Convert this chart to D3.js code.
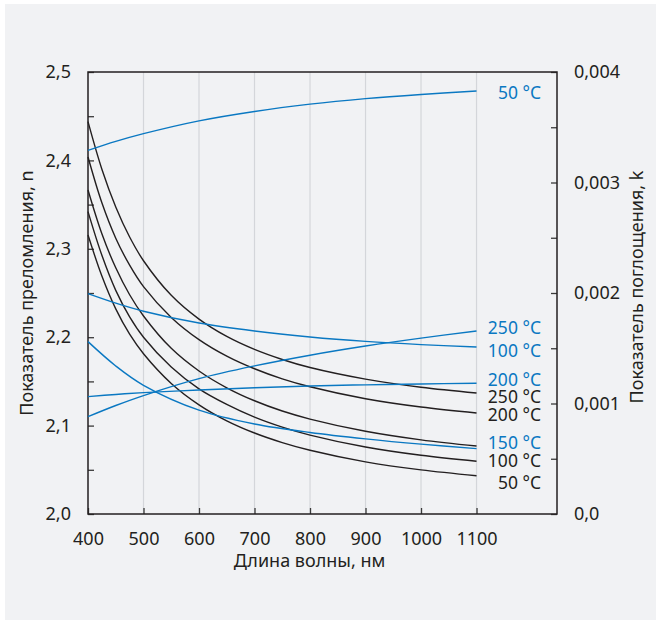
<!DOCTYPE html>
<html>
<head>
<meta charset="utf-8">
<script src="https://cdn.jsdelivr.net/npm/d3@7"></script>
<style>
  html, body { margin: 0; padding: 0; background: #ffffff; }
  svg { display: block; }
  text { font-family: "Noto Sans", "Open Sans", sans-serif; }
</style>
</head>
<body>
<svg id="chart" width="656" height="624"></svg>
<script>
// Wavelength grid (nm) for the refractive index curves
const wavelengthsN = [400, 425, 450, 475, 500, 550, 600, 650, 700, 750, 800, 900, 1000, 1100];
// Refractive index n by temperature
const n250 = [2.4438, 2.3900, 2.3473, 2.3133, 2.2865, 2.2474, 2.2205, 2.2009, 2.1862, 2.1748, 2.1657, 2.1526, 2.1434, 2.1369];
const n200 = [2.4038, 2.3520, 2.3120, 2.2815, 2.2572, 2.2224, 2.1973, 2.1786, 2.1643, 2.1529, 2.1439, 2.1304, 2.1210, 2.1143];
const n150 = [2.3665, 2.3170, 2.2785, 2.2480, 2.2240, 2.1874, 2.1618, 2.1428, 2.1281, 2.1165, 2.1074, 2.0936, 2.0839, 2.0769];
const n100 = [2.3420, 2.2926, 2.2530, 2.2230, 2.2000, 2.1663, 2.1416, 2.1240, 2.1096, 2.0983, 2.0893, 2.0758, 2.0664, 2.0596];
const n50  = [2.3156, 2.2692, 2.2320, 2.2034, 2.1813, 2.1477, 2.1235, 2.1054, 2.0916, 2.0808, 2.0721, 2.0590, 2.0499, 2.0433];

// Wavelength grid (nm) for the absorption index curves
const wavelengthsK = [400, 450, 500, 600, 700, 800, 900, 1000, 1100];
// Absorption index k (x 0.001) by temperature
const k50  = [3.290, 3.372, 3.442, 3.558, 3.643, 3.709, 3.759, 3.797, 3.828];
const k100 = [1.994, 1.908, 1.835, 1.728, 1.656, 1.602, 1.562, 1.533, 1.511];
const k150 = [1.560, 1.340, 1.165, 0.940, 0.815, 0.738, 0.680, 0.632, 0.592];
const k200 = [1.062, 1.082, 1.098, 1.122, 1.143, 1.158, 1.169, 1.177, 1.183];
const k250 = [0.881, 0.982, 1.072, 1.225, 1.340, 1.437, 1.520, 1.592, 1.656];

// Axis ticks
const xTicks = [400, 500, 600, 700, 800, 900, 1000, 1100];
const nTicks = [2.0, 2.1, 2.2, 2.3, 2.4, 2.5];
const kTicks = [0, 0.001, 0.002, 0.003, 0.004];
const nTickLabels = ["2,0", "2,1", "2,2", "2,3", "2,4", "2,5"];
const kTickLabels = ["0,0", "0,001", "0,002", "0,003", "0,004"];

const BLACK = "#231f20";
const BLUE = "#0a78c2";
const TEXT = "#231f20";

const svg = d3.select("#chart");

// panel background
svg.append("rect").attr("x", 5).attr("y", 4).attr("width", 651).attr("height", 616)
  .attr("fill", "#f1f2f4");

const L = 88, R = 557, T = 72, B = 514;
const x = d3.scaleLinear().domain([400, 1245]).range([L, R]);
const yN = d3.scaleLinear().domain([2.0, 2.5]).range([B, T]);
const yK = d3.scaleLinear().domain([0, 0.004]).range([B, T]);

// vertical grid lines
svg.append("g").selectAll("line").data(xTicks.slice(1)).join("line")
  .attr("x1", d => x(d)).attr("x2", d => x(d))
  .attr("y1", T).attr("y2", B)
  .attr("stroke", "#d4d6da").attr("stroke-width", 1.2);

// axes with inward ticks
const fmtN = d => nTickLabels[nTicks.findIndex(t => Math.abs(t - d) < 1e-9)] || "";
const fmtK = d => kTickLabels[kTicks.findIndex(t => Math.abs(t - d) < 1e-9)] || "";

function styleAxis(g) {
  g.select(".domain").remove();
  g.selectAll("line").attr("stroke", "#3a3a3a").attr("stroke-width", 1.3);
  g.selectAll("text").attr("fill", TEXT).style("font-size", "18px")
    .style("font-family", "'Noto Sans', sans-serif");
}

const leftAxis = d3.axisLeft(yN)
  .tickValues(d3.range(0, 11).map(i => 2 + i * 0.05))
  .tickSize(-6).tickPadding(17).tickFormat(fmtN);
svg.append("g").attr("transform", `translate(${L},0)`).call(leftAxis).call(styleAxis);

const rightAxis = d3.axisRight(yK)
  .tickValues(d3.range(0, 9).map(i => i * 0.0005))
  .tickSize(-6).tickPadding(17).tickFormat(fmtK);
svg.append("g").attr("transform", `translate(${R},0)`).call(rightAxis).call(styleAxis);

const bottomAxis = d3.axisBottom(x).tickValues(xTicks).tickSize(-6).tickPadding(18)
  .tickFormat(d3.format("d"));
svg.append("g").attr("transform", `translate(0,${B})`).call(bottomAxis).call(styleAxis);

// frame
svg.append("rect").attr("x", L).attr("y", T).attr("width", R - L).attr("height", B - T)
  .attr("fill", "none").attr("stroke", BLACK).attr("stroke-width", 1.5);

// curves
const smooth = d3.curveCatmullRom.alpha(0.5);
const lineN = d3.line().x((d, i) => x(wavelengthsN[i])).y(d => yN(d)).curve(smooth);
const lineK = d3.line().x((d, i) => x(wavelengthsK[i])).y(d => yK(d / 1000)).curve(smooth);

const nSeries = [n250, n200, n150, n100, n50];
const kSeries = [k50, k100, k150, k200, k250];

svg.append("g").selectAll("path").data(nSeries).join("path")
  .attr("d", lineN).attr("fill", "none").attr("stroke", BLACK).attr("stroke-width", 1.4);
svg.append("g").selectAll("path").data(kSeries).join("path")
  .attr("d", lineK).attr("fill", "none").attr("stroke", BLUE).attr("stroke-width", 1.4);

// end labels: text, colour, y of series end, vertical nudge
const labels = [
  { t: "50 °C",  c: BLUE,  y: yK(k50[k50.length - 1] / 1000),   dy: 2 },
  { t: "250 °C", c: BLUE,  y: yK(k250[k250.length - 1] / 1000), dy: -3 },
  { t: "100 °C", c: BLUE,  y: yK(k100[k100.length - 1] / 1000), dy: 4 },
  { t: "200 °C", c: BLUE,  y: yK(k200[k200.length - 1] / 1000), dy: -3 },
  { t: "250 °C", c: TEXT,  y: yN(n250[n250.length - 1]),        dy: 4 },
  { t: "200 °C", c: TEXT,  y: yN(n200[n200.length - 1]),        dy: 2 },
  { t: "150 °C", c: BLUE,  y: yK(k150[k150.length - 1] / 1000), dy: -6 },
  { t: "100 °C", c: TEXT,  y: yN(n100[n100.length - 1]),        dy: 0 },
  { t: "50 °C",  c: TEXT,  y: yN(n50[n50.length - 1]),          dy: 7 }
];
svg.append("g").selectAll("text").data(labels).join("text")
  .attr("x", 541).attr("y", d => d.y + d.dy)
  .attr("dy", "0.35em").attr("text-anchor", "end")
  .attr("fill", d => d.c).style("font-size", "17.5px")
  .text(d => d.t);

// axis titles
svg.append("text").attr("x", (L + R) / 2 - 13).attr("y", 567)
  .attr("text-anchor", "middle").attr("fill", TEXT).style("font-size", "18px")
  .text("Длина волны, нм");
svg.append("text").attr("transform", `translate(33,${(T + B) / 2}) rotate(-90)`)
  .attr("text-anchor", "middle").attr("fill", TEXT).style("font-size", "18px")
  .text("Показатель преломления, n");
svg.append("text").attr("transform", `translate(643,${(T + B) / 2 - 6}) rotate(-90)`)
  .attr("text-anchor", "middle").attr("fill", TEXT).style("font-size", "18px")
  .text("Показатель поглощения, k");
</script>
</body>
</html>
